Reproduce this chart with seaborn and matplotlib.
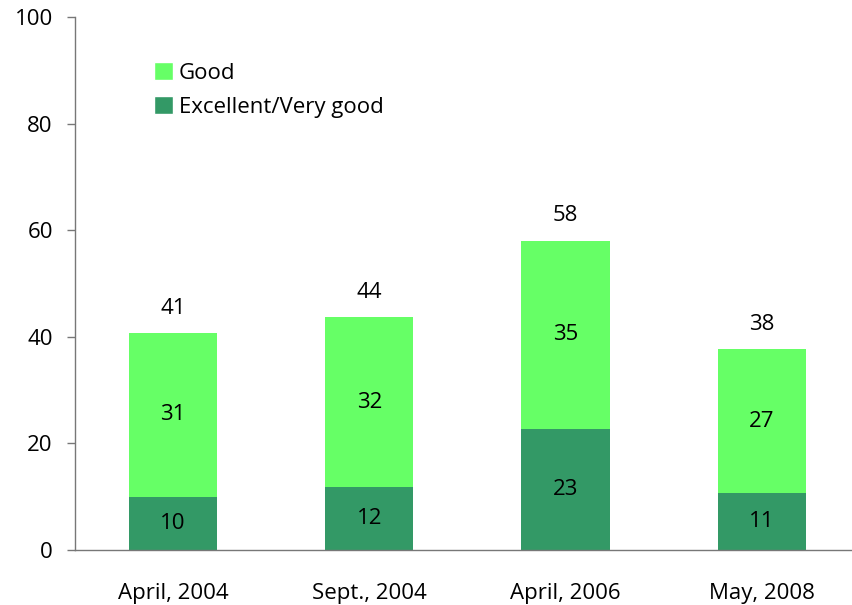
import matplotlib
matplotlib.use("Agg")
import matplotlib.pyplot as plt
import seaborn as sns
import pandas as pd
from matplotlib.patches import Patch

dates = ["April, 2004", "Sept., 2004", "April, 2006", "May, 2008"]
excellent = [10.0, 11.8, 22.7, 10.7]
good = [30.7, 31.9, 35.3, 27.0]
total_labels = [41, 44, 58, 38]
excellent_labels = [10, 12, 23, 11]
good_labels = [31, 32, 35, 27]

light = "#66FF66"
dark = "#339966"
fs = 16

df = pd.DataFrame({"date": dates, "excellent": excellent, "good": good})
df["total"] = df["excellent"] + df["good"]

sns.set_style("white")
plt.rcParams["font.family"] = ["Open Sans", "DejaVu Sans"]
plt.rcParams["text.color"] = "black"
plt.rcParams["xtick.color"] = "black"
plt.rcParams["ytick.color"] = "black"

fig = plt.figure(figsize=(8.52, 6.05), dpi=100)
ax = fig.add_axes([75 / 852, 55 / 605, 1 - 75 / 852, (550 - 17) / 605])

# totals in light green, then the lower segment over it
sns.barplot(data=df, x="date", y="total", color=light, width=0.45,
            saturation=1, ax=ax, linewidth=0)
sns.barplot(data=df, x="date", y="excellent", color=dark, width=0.45,
            saturation=1, ax=ax, linewidth=0)

for i in range(len(dates)):
    ax.text(i, excellent[i] / 2, str(excellent_labels[i]), ha="center",
            va="center", fontsize=fs)
    ax.text(i, excellent[i] + good[i] / 2, str(good_labels[i]), ha="center",
            va="center", fontsize=fs)
    ax.text(i, excellent[i] + good[i] + 4.7, str(total_labels[i]), ha="center",
            va="center", fontsize=fs)

ax.set_ylim(0, 100)
ax.set_xlim(-0.5, 3.46)
ax.set_yticks([0, 20, 40, 60, 80, 100])
ax.set_xlabel("")
ax.set_ylabel("")
ax.tick_params(axis="y", length=6, width=1, color="#777777", labelsize=fs,
               labelcolor="black", direction="out", left=True, pad=10)
ax.tick_params(axis="x", length=0, labelsize=fs, labelcolor="black", pad=24)
for s in ["top", "right"]:
    ax.spines[s].set_visible(False)
for s in ["left", "bottom"]:
    ax.spines[s].set_color("#777777")
    ax.spines[s].set_linewidth(1)

handles = [Patch(facecolor=light, label="Good"),
           Patch(facecolor=dark, label="Excellent/Very good")]
ax.legend(handles=handles, loc="upper left", bbox_to_anchor=(0.102, 0.915),
          frameon=False, fontsize=fs, handlelength=0.85, handleheight=0.85,
          handletextpad=0.25, labelspacing=0.55, borderaxespad=0, borderpad=0)

fig.savefig("out.png", dpi=100)
